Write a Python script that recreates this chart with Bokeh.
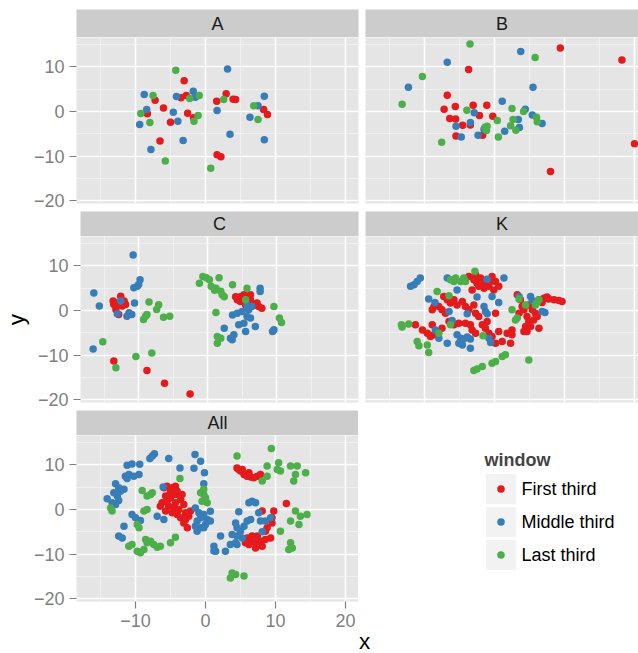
from bokeh.plotting import figure
from bokeh.layouts import column, row
from bokeh.models import (Range1d, FactorRange, LinearAxis, Grid, SingleIntervalTicker,
                          CustomJSTickFormatter, Label)
from bokeh.core.properties import value
from bokeh.embed import file_html
from bokeh.resources import INLINE

FONT = "Liberation Sans"

# window categories and their colours (ColorBrewer Set1)
WINDOWS = ["First third", "Middle third", "Last third"]
COLORS = ["#E41A1C", "#377EB8", "#4DAF4A"]

# ---- panel A -------------------------------------------------------------
A_first = [(-8.3, -0.5), (-7.2, 2.5), (-6.0, 0.8), (-6.5, -6.6), (-5.0, -2.4), (-3.5, 3.1),
           (-3.05, 6.9), (-2.75, 3.6), (-2.55, -0.4), (-1.7, -1.4), (1.6, 2.3), (1.65, -9.7),
           (2.2, -10.1), (2.95, 3.95), (3.95, 2.75), (4.3, 2.7), (8.3, 0.45), (8.85, -0.65)]
A_middle = [(-9.4, -2.9), (-8.75, 3.8), (-8.4, 0.45), (-7.8, -8.5), (-4.6, -0.15), (-4.15, 3.35),
            (-3.95, -2.2), (-3.2, -6.5), (-1.75, 4.5), (-1.45, 3.2), (1.65, 0.2), (3.15, 9.5),
            (3.5, -5.1), (6.35, -1.3), (7.5, 1.3), (8.4, 3.4), (8.4, -6.3)]
A_last = [(-9.25, -0.45), (-7.95, -2.45), (-7.5, 3.6), (-5.75, -11.1), (-4.25, 9.2), (-2.25, 2.9),
          (-1.65, -2.2), (-1.05, -0.9), (-0.9, 3.6), (0.75, -12.7), (2.6, 2.7), (6.9, 1.3),
          (7.5, -1.8)]

# ---- panel B -------------------------------------------------------------
B_first = [(9.4, 14.2), (18.2, 11.5), (20.0, -7.2), (8.0, -13.4), (-3.7, 9.4), (-6.75, 3.65),
           (-7.2, 0.5), (-5.6, 1.1), (-6.4, -1.55), (-5.55, -1.7), (-4.55, -3.1), (-3.45, -3.0),
           (-5.5, -5.5), (-3.05, 1.4), (-2.15, -0.9), (-1.1, 1.4), (-0.25, -1.05), (-1.7, -5.3)]
B_middle = [(-12.3, 5.4), (-6.75, 11.0), (3.75, 13.4), (5.5, 5.4), (1.1, 2.3), (-2.9, -0.3),
            (-3.45, -2.45), (-5.5, -3.3), (-4.75, -5.7), (-2.35, -5.3), (-1.5, -4.0), (1.45, -4.4),
            (3.4, -1.8), (3.55, -3.6), (4.4, 0.5), (5.4, -0.8), (6.8, -2.7)]
B_last = [(-3.5, 15.1), (5.8, 12.1), (-10.3, 7.8), (-13.2, 1.6), (-7.55, -6.9), (-3.95, 0.3),
          (-1.35, -3.5), (-1.15, -4.25), (-1.05, -3.3), (0.4, -2.0), (0.55, -5.7), (2.5, 0.65),
          (2.65, -1.8), (2.3, -3.2), (3.05, -4.2), (4.15, 0.0), (6.0, -1.3), (6.1, -2.3)]

# ---- panel C -------------------------------------------------------------
C_first = [(-13.6, 1.35), (-13.1, 1.7), (-12.6, 3.2), (-12.1, 2.1), (-11.9, 1.35), (-13.3, 0.2),
           (-12.9, -0.9), (-12.4, 1.0), (-13.7, 2.1),
           (-13.6, -11.3), (-8.8, -13.4), (-6.25, -16.3), (-2.55, -18.7),
           (4.05, 3.1), (4.75, 3.1), (5.25, 3.5), (5.7, 2.75), (6.2, 2.4), (6.4, 1.65), (6.9, 1.25),
           (7.4, 0.9), (7.85, 0.5), (6.2, 3.5), (5.5, 1.25), (4.75, 2.0), (4.3, 2.4), (7.15, 1.65)]
C_middle = [(-10.8, 12.4), (-16.5, 3.9), (-15.7, 1.0), (-16.6, -8.6), (-9.8, 6.9), (-10.7, 5.1),
            (-10.2, 5.4), (-10.0, 5.8), (-12.6, 2.1), (-10.6, 1.7), (-13.1, -0.75), (-11.7, -1.3),
            (-11.4, -0.5), (-11.0, -0.9),
            (3.6, -1.0), (4.3, -0.6), (5.0, -0.2), (5.7, -1.35), (6.2, -1.7), (5.25, -2.85),
            (4.5, -3.2), (5.7, 1.25), (5.95, 0.15), (2.4, -4.0), (3.8, -5.45), (3.55, -6.55),
            (3.3, -6.2), (5.5, -4.7), (6.9, -3.6), (9.4, -4.7), (9.6, -4.3), (7.6, 5.0),
            (7.6, 4.25), (6.4, 0.9)]
C_last = [(-8.5, 1.9), (-7.1, 1.3), (-7.4, 0.2), (-9.0, -1.3), (-9.3, -2.0), (-6.4, -1.5),
          (-5.5, -1.3), (-8.8, -0.9), (-15.2, -7.0), (-13.3, -12.8), (-10.4, -10.3), (-8.1, -9.5),
          (-0.7, 7.6), (-0.2, 7.3), (0.25, 6.9), (0.5, 5.4), (1.2, 5.0), (1.65, 7.3), (1.9, 4.3),
          (2.4, 3.1), (3.6, 5.75), (5.7, 5.0), (-1.2, 6.1), (1.2, -0.45), (1.4, -5.8), (1.9, -6.2),
          (1.4, -7.3), (9.6, 0.9), (10.4, -1.7), (10.7, -2.7), (5.5, 2.4), (2.1, 3.5), (1.0, 4.5)]

# ---- panel K -------------------------------------------------------------
K_first = [(-3.65, 7.6), (-2.95, 6.85), (-2.5, 6.1), (-2.0, 7.25), (-1.5, 6.1), (-0.8, 5.4),
           (-0.35, 7.6), (0.15, 6.5), (0.6, 5.4), (-3.2, 4.6), (-2.25, 5.4), (-1.5, 5.0),
           (-0.1, 4.6), (-2.7, 8.0), (-0.55, 6.5),
           (-7.25, 3.15), (-6.75, 2.4), (-6.3, 1.65), (-5.8, 2.4), (-7.95, 0.9), (-7.5, 0.15),
           (-7.0, -0.6), (-5.35, 1.25), (-4.6, 2.0), (-4.15, 0.9), (-3.65, 0.15), (-2.95, 1.25),
           (-2.7, -0.6), (-2.25, -1.35), (-8.65, 0.9), (-8.9, 0.15), (0.15, -0.6),
           (-11.3, -3.2), (-10.3, -4.35), (-9.6, -5.1), (-9.15, -5.8), (-8.65, -5.45),
           (-7.5, -3.95), (-6.5, -2.45), (-5.8, -3.2), (-5.1, -2.85), (-4.15, -2.85),
           (-3.45, -3.2), (-3.2, -4.35), (-2.7, -5.1), (-1.75, -3.2), (-1.05, -2.45),
           (-1.3, -3.95), (-0.8, -5.1), (-0.35, -5.8), (0.15, -7.3), (1.1, -6.95), (0.6, -4.7),
           (1.8, -5.1), (2.5, -5.45), (2.3, -7.3), (-8.9, -3.2),
           (3.25, 3.5), (3.7, 2.4), (3.95, 0.9), (3.5, -0.6), (4.2, 0.15), (4.65, -1.35),
           (4.9, -2.45), (4.45, -3.6), (4.2, -4.7), (4.65, -4.7), (5.15, -3.6), (5.6, -2.1),
           (5.85, -0.6), (5.4, 0.15), (4.9, 1.25), (6.35, 2.4), (7.05, 2.75), (7.75, 2.55),
           (8.5, 2.4), (9.2, 2.25), (9.65, 2.0), (6.35, -3.95), (2.5, -4.35), (6.8, 1.8),
           (7.5, 3.0), (6.1, -1.35)]
K_middle = [(-12.0, 5.4), (-11.5, 5.75), (-11.05, 6.5), (-10.6, 7.25), (-6.75, 7.25), (-5.35, 4.6),
            (-1.05, 7.0), (1.35, 7.25), (-9.4, 2.55), (-8.5, 1.8), (-2.5, 3.0), (-0.35, 3.15),
            (0.6, 1.8), (-1.5, 0.9), (-1.3, -0.2), (-1.05, -0.75), (-6.5, -0.2), (-3.9, -0.75),
            (-6.05, -2.25), (-8.45, -4.35), (-7.95, -6.2), (-6.75, -7.3), (-5.35, -5.45),
            (-4.85, -6.2), (-5.1, -7.3), (-4.4, -6.4), (-3.9, -5.95), (-3.45, -6.4), (-4.6, -7.7),
            (-3.45, -8.45), (-0.8, -6.2), (-0.55, -7.15), (3.5, 3.15), (5.15, 3.15), (5.4, 2.25),
            (6.8, -0.2), (7.2, -0.45)]
K_last = [(-2.8, 8.75), (-6.3, 6.85), (-5.55, 7.25), (-4.85, 6.5), (-4.4, 7.25), (-4.15, 6.5),
          (-5.8, 6.5), (-8.2, 4.25), (-6.5, 3.3), (-13.3, -3.2), (-13.2, -3.7), (-12.25, -3.0),
          (-7.95, -5.1), (-6.3, -3.2), (-11.05, -6.95), (-10.8, -7.9), (-9.6, -7.7), (-9.4, -9.4),
          (-1.65, -5.65), (2.5, 0.15), (3.0, -2.1), (3.25, -1.7), (3.5, 2.55), (4.45, 1.25),
          (5.85, 1.25), (6.1, 1.8), (6.35, 2.4), (4.9, -11.05), (1.1, -10.3), (1.55, -9.9),
          (0.15, -11.4), (-0.35, -11.8), (-1.75, -12.55), (-2.5, -13.1), (-2.95, -13.4)]

# ---- panel All -----------------------------------------------------------
All_first = [(-5.95, 4.85), (-5.5, 5.2), (-4.75, 4.85), (-4.3, 5.2), (-6.2, 1.5), (-5.7, 3.0),
             (-5.0, 2.6), (-4.3, 3.35), (-3.55, 2.25), (-3.1, 1.1), (-5.25, 0.75), (-4.5, 0.35),
             (-3.8, 0.0), (-2.85, -0.75), (-2.4, -1.5), (-3.55, -1.85), (-3.1, -3.0), (-2.6, -4.1),
             (-4.75, -0.75), (-5.7, -0.35), (-4.05, 4.1), (-3.35, 3.35), (-5.0, 4.1), (-5.5, 1.85),
             (-4.3, 1.5), (-2.15, -0.35), (-6.45, 0.75), (-4.05, -1.1), (-2.85, -2.25),
             (4.5, 9.3), (5.0, 8.6), (5.5, 7.85), (5.95, 7.45), (6.45, 7.25), (6.9, 7.1),
             (7.4, 7.45), (7.85, 7.85), (5.25, 8.95), (6.2, 8.2), (4.75, 8.95),
             (11.55, 1.35), (9.75, -0.35), (9.5, -1.85), (8.1, -0.35), (8.8, -4.1), (8.55, -4.85),
             (5.95, -6.35), (6.45, -7.1), (7.15, -7.45), (7.85, -7.1), (8.55, -6.7), (9.3, -6.35),
             (7.4, -5.95), (6.65, -5.95), (8.1, -8.2), (7.15, -8.6), (6.2, -7.85), (5.7, -7.45),
             (9.5, -3.0)]
All_middle = [(-7.6, 11.95), (-7.3, 12.45), (-7.95, 11.4), (-5.25, 11.4), (-1.5, 12.3), (-0.7, 10.8),
              (-11.2, 9.9), (-10.5, 10.2), (-9.4, 10.1), (-11.45, 7.45), (-10.95, 7.85),
              (-10.25, 7.45), (-9.5, 7.85), (-11.2, 6.95), (-3.65, 9.3), (-1.65, 9.2), (-0.15, 8.2),
              (-12.85, 5.75), (-12.4, 4.85), (-12.15, 4.1), (-11.65, 4.5), (-13.1, 3.75),
              (-12.6, 3.0), (-12.4, 2.0), (-12.85, 1.1), (-13.35, 1.5), (-14.05, 2.4), (-6.05, 5.05),
              (-0.25, 5.75), (-10.5, -1.1), (-10.0, -1.85), (-9.3, -2.45), (-6.9, -1.5),
              (-5.95, -2.25), (-11.65, -3.75), (-12.4, -5.95), (-11.9, -6.35),
              (-1.45, 0.35), (-0.95, -0.75), (-0.7, -1.85), (-1.2, -2.6), (-0.25, -1.1),
              (0.25, -2.25), (0.0, -3.35), (-0.7, -4.1), (-1.45, -3.75), (-1.2, -4.85),
              (0.7, -2.6), (1.2, -9.3), (0.7, -0.4), (0.25, -2.6), (-0.25, -4.1),
              (6.2, 1.5), (6.65, 1.85), (7.15, 1.5), (4.75, -0.5), (4.3, -3.0), (4.5, -4.1),
              (5.0, -4.85), (5.5, -3.75), (5.95, -2.6), (6.45, -2.25), (5.25, -6.35), (4.5, -5.95),
              (7.6, -0.75), (7.85, -2.6), (8.55, -2.6), (9.3, -1.85), (8.1, -5.0), (2.15, -5.95),
              (1.2, -8.2), (1.45, -9.35), (2.85, -9.35), (3.55, -7.85), (4.3, -7.45), (4.5, -7.85),
              (3.8, -5.6)]
All_last = [(-3.65, 6.95), (-9.05, 4.25), (-8.35, 3.0), (-7.85, 3.35), (-7.6, 3.75), (-13.55, 0.35),
            (-13.35, -0.35), (-8.8, -0.35), (-8.35, 0.0), (-9.75, -3.35), (-9.5, -4.1),
            (-10.5, -7.85), (-10.95, -8.2), (-8.55, -6.7), (-8.35, -7.45), (-7.85, -7.1),
            (-7.4, -7.85), (-8.8, -8.95), (-9.3, -9.7), (-9.75, -9.35), (-6.9, -8.45),
            (-6.45, -8.2), (-5.0, -7.45), (-4.3, -6.2), (-0.7, 3.75), (-0.25, 3.35), (0.0, 2.6),
            (-0.5, 1.85), (0.25, 1.5), (-0.25, 4.5),
            (9.4, 13.65), (4.5, 11.95), (8.8, 9.7), (10.45, 10.45), (10.7, 8.6), (10.25, 8.95),
            (12.15, 9.7), (13.1, 9.7), (12.85, 7.85), (12.6, 6.35), (14.3, 8.2), (8.8, 7.45),
            (8.1, 6.35), (12.85, -0.35), (13.55, -1.5), (13.35, -3.35), (14.5, -1.1),
            (12.15, -2.6), (10.7, -4.85), (12.15, -7.45), (11.9, -8.95), (12.4, -8.6),
            (3.8, -14.2), (3.55, -15.3), (4.3, -14.55), (5.5, -14.9)]

# ---- shared scales / layout constants ------------------------------------
X_START = -18.43
PX_PER_UNIT_X = 7.0
Y_START, Y_END = -20.58, 16.55
FRAME_H = 166
STRIP_TOP_H = 28      # first-row strips
STRIP_H = 25          # lower-row strips
ROW_GAP = 8
LEFT = 76
GAP = 7
FRAME_W_LEFT = 282
FRAME_W_RIGHT = 273
TOTAL_W = LEFT + FRAME_W_LEFT + GAP + FRAME_W_RIGHT
TOTAL_H = 653
TICK_GREY = "#7F7F7F"
MINUS_JS = "return tick < 0 ? '\u2212' + Math.abs(tick) : String(tick);"


def ticker():
    return SingleIntervalTicker(interval=10, num_minor_ticks=2)


def styled_axis(**kw):
    return LinearAxis(ticker=ticker(), formatter=CustomJSTickFormatter(code=MINUS_JS),
                      axis_line_color=None, major_tick_line_color=TICK_GREY,
                      major_tick_line_width=1.2, major_tick_in=0, major_tick_out=7,
                      minor_tick_line_color=None, major_label_standoff=5,
                      major_label_text_font=FONT, major_label_text_font_size="18px",
                      major_label_text_color=TICK_GREY,
                      axis_label_text_font=FONT, axis_label_text_font_size="22.5px",
                      axis_label_text_font_style="normal", axis_label_text_color="black",
                      **kw)


def strip(name, frame_w, left, right, top, h):
    s = figure(width=left + frame_w + right, height=top + h,
               x_range=FactorRange(factors=[name]), y_range=FactorRange(factors=[name]),
               x_axis_type=None, y_axis_type=None,
               min_border_left=left, min_border_right=right, min_border_top=top,
               min_border_bottom=0, background_fill_color="#CCCCCC",
               border_fill_color="white", outline_line_color=None,
               output_backend="svg", toolbar_location=None)
    s.text(x=[name], y=[name], text=[name], text_align="center", text_baseline="middle",
           text_font=value(FONT), text_font_size="18px", text_color="#1A1A1A")
    return s


def panel(series, frame_w, left, right, bottom, y_axis=False, x_axis=False, y_label=None):
    x_end = X_START + frame_w / PX_PER_UNIT_X
    p = figure(width=left + frame_w + right, height=FRAME_H + bottom,
               x_range=Range1d(X_START, x_end), y_range=Range1d(Y_START, Y_END),
               x_axis_type=None, y_axis_type=None,
               min_border_left=left, min_border_right=right, min_border_top=0,
               min_border_bottom=bottom, background_fill_color="#E5E5E5",
               border_fill_color="white", outline_line_color=None,
               output_backend="svg", toolbar_location=None)
    for dim in (0, 1):
        p.add_layout(Grid(dimension=dim, ticker=ticker(), grid_line_color="white",
                          grid_line_width=1.6, minor_grid_line_color="#F2F2F2",
                          minor_grid_line_width=0.8))
    if y_axis:
        p.add_layout(styled_axis(axis_label=y_label, axis_label_standoff=6), "left")
    if x_axis:
        p.add_layout(styled_axis(), "below")
    for pts, color in zip(series, COLORS):
        p.scatter([q[0] for q in pts], [q[1] for q in pts], size=7.5,
                  fill_color=color, line_color=None)
    return p


# row 1
sA = strip("A", FRAME_W_LEFT, LEFT, GAP, 9, STRIP_TOP_H)
pA = panel((A_first, A_middle, A_last), FRAME_W_LEFT, LEFT, GAP, ROW_GAP, y_axis=True)
sB = strip("B", FRAME_W_RIGHT, 0, 0, 9, STRIP_TOP_H)
pB = panel((B_first, B_middle, B_last), FRAME_W_RIGHT, 0, 0, ROW_GAP)

# row 2
sC = strip("C", FRAME_W_LEFT, LEFT, GAP, 0, STRIP_H)
pC = panel((C_first, C_middle, C_last), FRAME_W_LEFT, LEFT, GAP, ROW_GAP, y_axis=True, y_label="y")
sK = strip("K", FRAME_W_RIGHT, 0, 0, 0, STRIP_H)
pK = panel((K_first, K_middle, K_last), FRAME_W_RIGHT, 0, 0, ROW_GAP)

# row 3: the All panel runs to the bottom of the page
row3_top = 9 + STRIP_TOP_H + 2 * (FRAME_H + ROW_GAP) + STRIP_H
all_bottom = TOTAL_H - row3_top - STRIP_H - FRAME_H
sAll = strip("All", FRAME_W_LEFT, LEFT, 0, 0, STRIP_H)
pAll = panel((All_first, All_middle, All_last), FRAME_W_LEFT, LEFT, 0, all_bottom,
             y_axis=True, x_axis=True)

# legend for the colour mapping
RIGHT_W = TOTAL_W - LEFT - FRAME_W_LEFT
XLAB_H = 25
leg_h = TOTAL_H - row3_top - XLAB_H
LEG_TOP = 62
LEG_FRAME_H = 99
KEY_X = 142.5
LABEL_X = 163
leg = figure(width=RIGHT_W, height=leg_h,
             x_range=Range1d(0, RIGHT_W), y_range=FactorRange(factors=WINDOWS[::-1]),
             x_axis_type=None, y_axis_type=None,
             min_border_left=0, min_border_right=0, min_border_top=LEG_TOP,
             min_border_bottom=leg_h - LEG_TOP - LEG_FRAME_H,
             background_fill_color="white", border_fill_color="white",
             outline_line_color=None, output_backend="svg", toolbar_location=None,
             title="window")
leg.title.text_font = FONT
leg.title.text_font_size = "18px"
leg.title.text_font_style = "bold"
leg.title.align = "left"
leg.title.offset = 126
leg.title.standoff = 5
leg.scatter(x=[KEY_X] * 3, y=WINDOWS, marker="square", size=31,
            fill_color="#F2F2F2", line_color="white", line_width=1)
leg.scatter(x=[KEY_X] * 3, y=WINDOWS, size=7.5, fill_color=COLORS, line_color=None)
leg.text(x=[LABEL_X] * 3, y=WINDOWS, text=WINDOWS, text_align="left", text_baseline="middle",
         text_font=value(FONT), text_font_size="18px", text_color="black")

# x axis title, centred under the two panel columns
xlab = figure(width=RIGHT_W, height=XLAB_H,
              x_range=Range1d(0, 1), y_range=Range1d(0, 1),
              x_axis_type=None, y_axis_type=None, min_border=0,
              background_fill_color="white", border_fill_color="white",
              outline_line_color=None, output_backend="svg", toolbar_location=None)
xlab.add_layout(Label(x=6, y=0, x_units="screen", y_units="screen", text="x",
                      text_align="center", text_baseline="bottom",
                      text_font=FONT, text_font_size="22.5px", text_color="black"))

layout = column(
    row(column(sA, pA), column(sB, pB)),
    row(column(sC, pC), column(sK, pK)),
    row(column(sAll, pAll), column(leg, xlab)),
)

open("out.html", "w").write(file_html(layout, INLINE))
